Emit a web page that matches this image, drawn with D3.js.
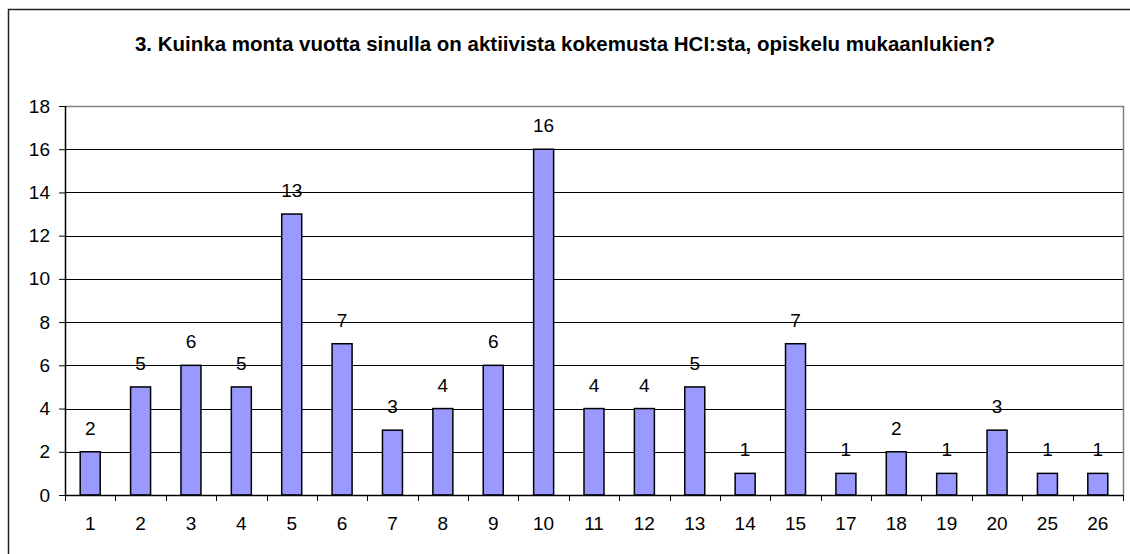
<!DOCTYPE html>
<html>
<head>
<meta charset="utf-8">
<script src="https://cdn.jsdelivr.net/npm/d3@7"></script>
<style>
    body { margin: 0; background: #fff; }
    svg { display: block; font-family: Arial, "Liberation Sans", sans-serif; }
</style>
</head>
<body>
<div id="chart"></div>
<script>
// Vastaukset: vuodet ja vastaajien määrä
const years = ['1', '2', '3', '4', '5', '6', '7', '8', '9', '10', '11', '12', '13', '14', '15', '17', '18', '19', '20', '25', '26'];
const counts = [2, 5, 6, 5, 13, 7, 3, 4, 6, 16, 4, 4, 5, 1, 7, 1, 2, 1, 3, 1, 1];
const yTicks = [0, 2, 4, 6, 8, 10, 12, 14, 16, 18];
const title = '3. Kuinka monta vuotta sinulla on aktiivista kokemusta HCI:sta, opiskelu mukaanlukien?';

const width = 1130, height = 554;
const margin = { top: 106, right: 7, bottom: 59, left: 65 };
const innerW = width - margin.left - margin.right;
const innerH = height - margin.top - margin.bottom;
const fs = '19px';

const svg = d3.select('#chart').append('svg')
    .attr('width', width)
    .attr('height', height);

// chart frame (cut off at right and bottom)
svg.append('rect')
    .attr('x', 8.5).attr('y', 9.5)
    .attr('width', 1200).attr('height', 700)
    .attr('fill', 'none')
    .attr('stroke', '#222')
    .attr('stroke-width', 1.5);

svg.append('text')
    .attr('x', 565).attr('y', 51)
    .attr('text-anchor', 'middle')
    .style('font-size', '20.5px')
    .style('font-weight', 'bold')
    .text(title);

const g = svg.append('g').attr('transform', `translate(${margin.left},${margin.top})`);

const x = d3.scaleBand().domain(years).range([0, innerW]);
const y = d3.scaleLinear().domain([0, 18]).range([innerH, 0]);

// gridlines
g.append('g')
    .selectAll('line')
    .data(yTicks.filter(d => d > 0 && d < 18))
    .join('line')
    .attr('x1', 0).attr('x2', innerW)
    .attr('y1', d => Math.round(y(d)) + 0.5)
    .attr('y2', d => Math.round(y(d)) + 0.5)
    .attr('stroke', '#000')
    .attr('stroke-width', 1);

// plot area border (top + right)
g.append('path')
    .attr('d', `M0,0.5H${innerW + 0.5}V${innerH}`)
    .attr('fill', 'none')
    .attr('stroke', '#808080')
    .attr('stroke-width', 1.5);

// bars
const barW = 20;
g.append('g')
    .selectAll('rect')
    .data(counts)
    .join('rect')
    .attr('x', (d, i) => x(years[i]) + x.bandwidth() / 2 - barW / 2)
    .attr('y', d => y(d))
    .attr('width', barW)
    .attr('height', d => innerH - y(d))
    .attr('fill', '#9999ff')
    .attr('stroke', '#000')
    .attr('stroke-width', 1.5);

// value labels
g.append('g')
    .selectAll('text')
    .data(counts)
    .join('text')
    .attr('x', (d, i) => x(years[i]) + x.bandwidth() / 2)
    .attr('y', d => y(d) - 17)
    .attr('text-anchor', 'middle')
    .style('font-size', fs)
    .text(d => d);

// y axis
const yAxis = g.append('g')
    .call(d3.axisLeft(y).tickValues(yTicks).tickSize(6).tickPadding(9));
yAxis.select('.domain').attr('d', `M0.5,0V${innerH}`).attr('stroke', '#000').attr('stroke-width', 1.5);
yAxis.selectAll('text').style('font-size', fs).attr('fill', '#000').style('font-family', 'Arial, "Liberation Sans", sans-serif');

// x axis: ticks at category boundaries
const xAxisG = g.append('g').attr('transform', `translate(0,${innerH})`);
xAxisG.append('line')
    .attr('x1', 0).attr('x2', innerW)
    .attr('y1', 0.5).attr('y2', 0.5)
    .attr('stroke', '#000').attr('stroke-width', 1.5);
xAxisG.selectAll('line.tick')
    .data(years.map((d, i) => i).concat([years.length]))
    .join('line')
    .attr('class', 'tick')
    .attr('x1', i => Math.round(i * x.step()) + 0.5)
    .attr('x2', i => Math.round(i * x.step()) + 0.5)
    .attr('y1', 0).attr('y2', 6)
    .attr('stroke', '#000');
xAxisG.selectAll('text')
    .data(years)
    .join('text')
    .attr('x', d => x(d) + x.bandwidth() / 2)
    .attr('y', 35)
    .attr('text-anchor', 'middle')
    .style('font-size', fs)
    .text(d => d);
</script>
</body>
</html>
